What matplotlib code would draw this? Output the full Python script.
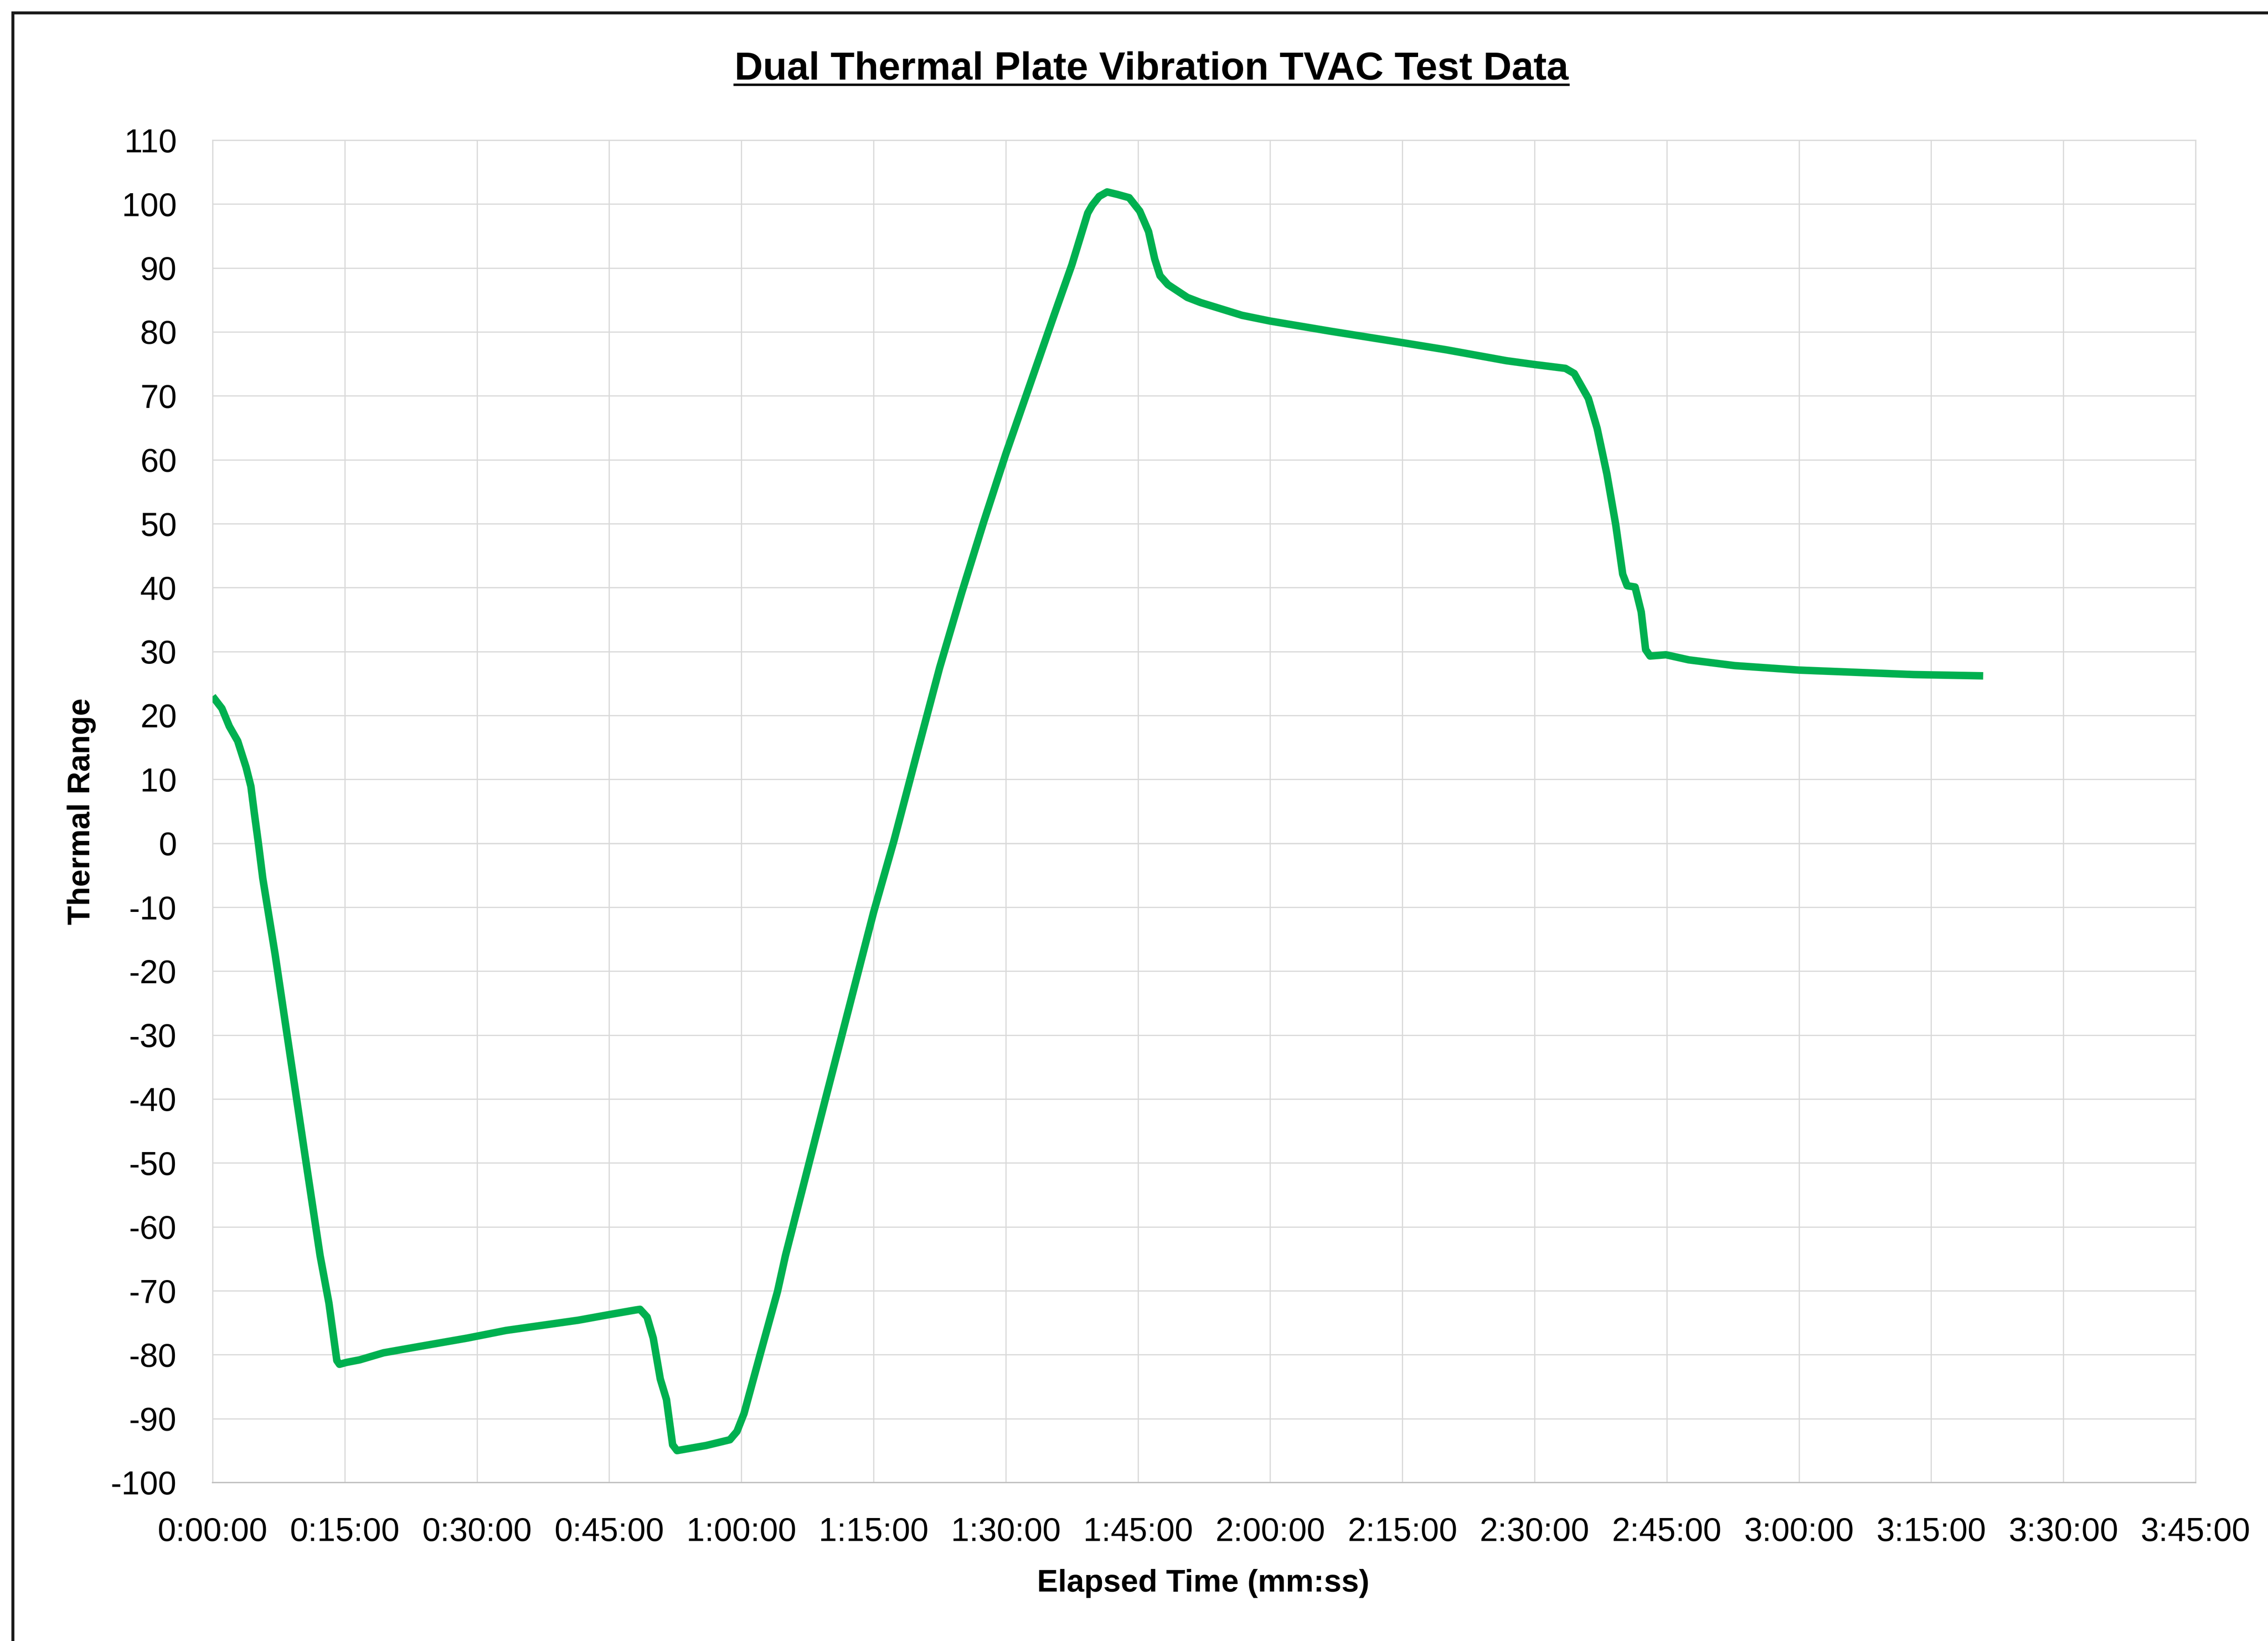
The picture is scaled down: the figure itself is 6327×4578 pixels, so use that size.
import numpy as np
import matplotlib
matplotlib.use("Agg")
import matplotlib.pyplot as plt
from matplotlib.ticker import FuncFormatter, MultipleLocator
from matplotlib.patches import Rectangle
from matplotlib.lines import Line2D

plt.rcParams["axes.unicode_minus"] = False

# elapsed time in minutes and plate temperature
tiempo = [0.0, 1.06, 1.9, 2.85, 3.8, 4.35, 4.75, 5.2, 5.7, 7.1, 10.4, 12.2, 13.2, 14.1,
          14.4, 15.2, 16.7, 19.4, 23.5, 28.9, 33.3, 41.5, 45.1, 48.0, 48.5, 49.3,
          50.0, 50.8, 51.5, 52.2, 52.7, 56.0, 58.7, 59.5, 60.3, 62.1, 64.1, 65.0,
          69.5, 75.0, 77.3, 80.0, 82.5, 85.0, 87.5, 90.0, 95.5, 97.5, 99.3, 99.8,
          100.6, 101.5, 102.7, 104.0, 105.2, 106.2, 106.9, 107.5, 108.4, 110.6,
          112.1, 116.8, 120.0, 126.9, 135.1, 140.0, 146.8, 150.0, 153.5, 154.5,
          156.1, 157.1, 158.2, 159.2, 160.0, 160.5, 161.4, 162.1, 162.6, 163.1,
          164.9, 167.5, 172.7, 180.0, 187.4, 193.0, 200.9]
temperatura = [23.0, 21.1, 18.3, 16.0, 11.9, 8.9, 4.6, 0.0, -5.5, -17.4, -48.0, -64.5, -71.9, -80.9,
               -81.5, -81.2, -80.8, -79.7, -78.7, -77.4, -76.2, -74.6, -73.7, -73.0, -72.9, -74.1,
               -77.4, -83.8, -87.0, -94.1, -95.0, -94.2, -93.3, -92.0, -89.2, -80.1, -70.1, -64.5,
               -40.2, -10.8, 0.35, 14.5, 27.5, 39.2, 50.3, 60.9, 82.7, 90.5, 98.6, 99.8,
               101.2, 101.9, 101.5, 101.0, 98.9, 95.7, 91.4, 88.8, 87.4, 85.4,
               84.6, 82.6, 81.7, 80.1, 78.3, 77.2, 75.5, 74.9, 74.3, 73.5,
               69.6, 64.9, 57.8, 49.9, 42.1, 40.3, 40.1, 36.2, 30.3, 29.3,
               29.5, 28.7, 27.8, 27.1, 26.7, 26.4, 26.2]

W, H = 6327, 4578
fig = plt.figure(figsize=(W / 300, H / 300), dpi=300)
fig.patch.set_facecolor("white")
ax = fig.add_axes([593 / W, 1 - 4136 / H, (6125 - 593) / W, (4136 - 391) / H])

fuente = "Liberation Sans"
gris = "#D9D9D9"

ax.plot(tiempo, temperatura, color="#00B050", lw=5.0, solid_joinstyle="round",
        solid_capstyle="butt", zorder=3)

ax.set_xlim(0, 225)
ax.set_ylim(-100, 110)
ax.xaxis.set_major_locator(MultipleLocator(15))
ax.yaxis.set_major_locator(MultipleLocator(10))

def hhmmss(v, pos):
    m = int(round(v))
    return f"{m // 60}:{m % 60:02d}:00"

ax.xaxis.set_major_formatter(FuncFormatter(hhmmss))
ax.grid(True, color=gris, lw=0.8, zorder=0)
ax.axhline(0, color="#BFBFBF", lw=0.8, zorder=1)
for s in ["top", "right", "left"]:
    ax.spines[s].set_color(gris)
    ax.spines[s].set_linewidth(0.8)
ax.spines["bottom"].set_color("#BFBFBF")
ax.spines["bottom"].set_linewidth(0.9)
ax.tick_params(length=0, labelsize=22, colors="black")
ax.tick_params(axis="y", pad=24)
ax.tick_params(axis="x", pad=23)
for lbl in ax.get_xticklabels() + ax.get_yticklabels():
    lbl.set_family(fuente)

titulo = fig.text(3212 / W, 1 - 194 / H, "Dual Thermal Plate Vibration TVAC Test Data",
                  ha="center", va="center", fontsize=26.3, fontweight="bold", family=fuente)
fig.text(3357 / W, 1 - 4418 / H, "Elapsed Time (mm:ss)", ha="center", va="center",
         fontsize=21, fontweight="bold", family=fuente)
fig.text(228 / W, 1 - 2264 / H, "Thermal Range", ha="center", va="center", rotation=90,
         fontsize=21, fontweight="bold", family=fuente)

# marco del grafico (solo se ven el borde izquierdo y el superior)
fig.add_artist(Rectangle((36 / W, -0.2), 1.2, 1.2 - 36 / H, transform=fig.transFigure,
                         fill=False, edgecolor="#1a1a1a", lw=2.0))

# subrayado del titulo
fig.canvas.draw()
bb = titulo.get_window_extent().transformed(fig.transFigure.inverted())
fig.add_artist(Line2D([bb.x0, bb.x1], [bb.y0 + 0.002, bb.y0 + 0.002], color="black", lw=1.6,
                      transform=fig.transFigure))

fig.savefig("out.png", dpi=300, facecolor="white")
